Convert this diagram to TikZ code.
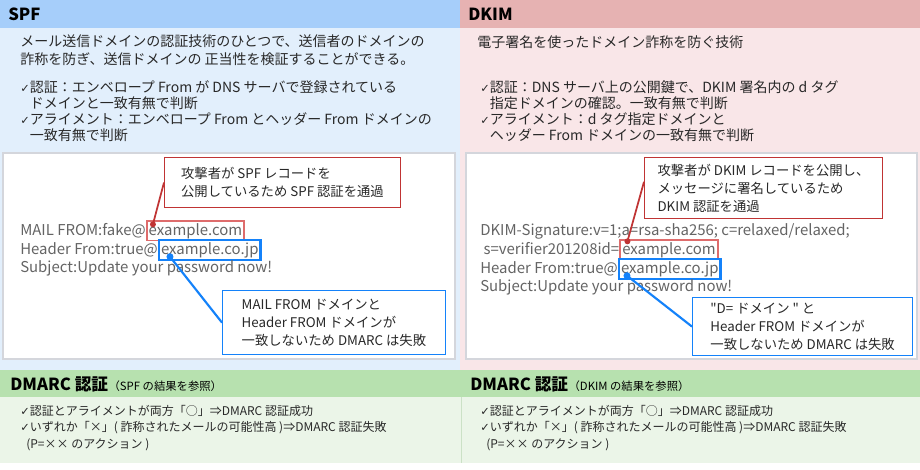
\documentclass[tikz,border=0pt]{standalone}
\usepackage{fontspec}
\setmainfont{Noto Sans CJK JP}
\newfontfamily\checkfont{DejaVu Sans}
\usetikzlibrary{calc,positioning}

\definecolor{spfhead}{RGB}{166,206,250}
\definecolor{spfback}{RGB}{226,239,252}
\definecolor{dkimhead}{RGB}{230,178,178}
\definecolor{dkimback}{RGB}{249,230,232}
\definecolor{dmarchead}{RGB}{183,225,175}
\definecolor{dmarcback}{RGB}{235,245,232}
\definecolor{mailgray}{RGB}{100,100,100}
\definecolor{textgray}{RGB}{40,40,40}
\definecolor{notered}{RGB}{192,52,52}
\definecolor{markred}{RGB}{222,108,108}
\definecolor{noteblue}{RGB}{20,130,250}
\definecolor{boxgray}{RGB}{212,214,220}

\newcommand{\chk}{{\checkfont\fontsize{8.5}{8}\selectfont ✓}}
\newcommand{\dq}{{\addfontfeatures{Ligatures=TeXOff}"}}

\begin{document}
\begin{tikzpicture}
[
x=0.75pt, y=-0.75pt,
headtext/.style={anchor=west, inner sep=0pt, font=\fontsize{12.5}{15}\selectfont\bfseries},
desc/.style={anchor=north west, inner sep=0pt, align=left, text=textgray, font=\fontsize{10.5}{13.5}\selectfont},
checks/.style={anchor=north west, inner sep=0pt, align=left, text=textgray, font=\fontsize{10.5}{12}\selectfont},
mail/.style={anchor=base west, inner sep=0pt, text=mailgray, font=\fontsize{11.2}{14}\selectfont},
redmark/.style={mail, draw=markred, line width=1.2pt, inner sep=1.5pt},
bluemark/.style={mail, draw=noteblue, line width=1.6pt, inner sep=1.5pt},
rednote/.style={anchor=north west, draw=notered, line width=0.7pt, fill=white, align=left, text=textgray, font=\fontsize{10}{13.5}\selectfont},
bluenote/.style={anchor=north west, draw=noteblue, line width=0.9pt, fill=white, align=left, text=textgray, font=\fontsize{10}{13.5}\selectfont},
redline/.style={draw=notered, line width=1.3pt},
blueline/.style={draw=noteblue, line width=1.6pt},
dmarctext/.style={anchor=north west, inner sep=0pt, align=left, text=textgray, font=\fontsize{9}{12.4}\selectfont},
]
\useasboundingbox[fill=white] (0,0) rectangle (920,469);

% panels
\fill[spfhead] (0,0) rectangle (460,28);
\fill[spfback] (0,28) rectangle (460,370);
\fill[dkimhead] (460,0) rectangle (920,28);
\fill[dkimback] (460,28) rectangle (920,370);
\fill[dmarchead] (0,370) rectangle (920,397);
\fill[dmarcback] (0,397) rectangle (920,463);
\draw[dmarcback!92!black!60!dmarchead, line width=0.5pt] (461,397) -- (461,463);
\draw[boxgray, fill=white, line width=1.2pt] (3,153) rectangle (455,359);
\draw[boxgray, fill=white, line width=1.2pt] (466,153) rectangle (917,359);

% SPF side
\node[headtext] (spftitle) at (8,14) {SPF};
\node[desc] (spfdesc) at (20,34) {メール送信ドメインの認証技術のひとつで、送信者のドメインの\\詐称を防ぎ、送信ドメインの 正当性を検証することができる。};
\node[checks] (spfcheck) at (20,80) {\chk 認証：エンベロープ From が DNS サーバで登録されている\\\phantom{\chk}ドメインと一致有無で判断\\\chk アライメント：エンベロープ From とヘッダー From ドメインの\\\phantom{\chk}一致有無で判断};

\node[mail] (spfmail1) at (20,235) {MAIL FROM:fake@};
\node[redmark, anchor=base west] (spfdom) at (spfmail1.base east) {example.com};
\node[mail] (spfmail2) at (20,254) {Header From:true@};
\node[bluemark, anchor=base west] (spfhdr) at (spfmail2.base east) {example.co.jp};
\node[mail] (spfmail3) at (20,272) {Subject:Update your password now!};

\node[rednote, minimum width=177pt, minimum height=37.5pt] (spfnote) at (164,157) {攻撃者が SPF レコードを\\公開しているため SPF 認証を通過};
\node[bluenote, minimum width=167pt, minimum height=48pt] (spfblue) at (222,290) {MAIL FROM ドメインと\\Header FROM ドメインが\\一致しないため DMARC は失敗};

\coordinate (spfreddot) at ($(spfdom.north west)+(7,4)$);
\coordinate (spfbluedot) at ($(spfhdr.south west)+(12,-4)$);
\draw[redline] (spfnote.west) -- (spfreddot);
\fill[notered] (spfreddot) circle (3);
\draw[blueline] (spfbluedot) -- (spfblue.west);
\fill[noteblue] (spfbluedot) circle (3.5);

% DKIM side
\node[headtext] (dkimtitle) at (468,14) {DKIM};
\node[desc] (dkimdesc) at (477,35) {電子署名を使ったドメイン詐称を防ぐ技術};
\node[checks] (dkimcheck) at (480,80) {\chk 認証：DNS サーバ上の公開鍵で、DKIM 署名内の d タグ\\\phantom{\chk}指定ドメインの確認。一致有無で判断\\\chk アライメント：d タグ指定ドメインと\\\phantom{\chk}ヘッダー From ドメインの一致有無で判断};

\node[mail] (dkimmail1) at (480,235) {DKIM-Signature:v=1;a=rsa-sha256; c=relaxed/relaxed;};
\node[mail] (dkimmail2) at (480,254) {\ s=verifier201208id=};
\node[redmark, anchor=base west] (dkimdom) at (dkimmail2.base east) {example.com};
\node[mail] (dkimmail3) at (480,273) {Header From:true@};
\node[bluemark, anchor=base west] (dkimhdr) at (dkimmail3.base east) {example.co.jp};
\node[mail] (dkimmail4) at (480,291) {Subject:Update your password now!};

\node[rednote, minimum width=178.5pt, minimum height=45.75pt] (dkimnote) at (644,157) {攻撃者が DKIM レコードを公開し、\\メッセージに署名しているため\\DKIM 認証を通過};
\node[bluenote, minimum width=165pt, minimum height=43.5pt] (dkimblue) at (692,297) {\dq D= ドメイン \dq{} と\\Header FROM ドメインが\\一致しないため DMARC は失敗};

\coordinate (dkimreddot) at ($(dkimdom.north west)+(8,2)$);
\coordinate (dkimbluedot) at ($(dkimhdr.south west)+(9,-4)$);
\draw[redline] ($(dkimnote.north west)!0.4!(dkimnote.south west)$) -- (dkimreddot);
\fill[notered] (dkimreddot) circle (3);
\draw[blueline] (dkimbluedot) -- (dkimblue.west);
\fill[noteblue] (dkimbluedot) circle (3.5);

% DMARC
\node[headtext] (spfdmarc) at (10,384) {DMARC 認証};
\node[anchor=base west, inner sep=0pt, font=\fontsize{8.5}{10}\selectfont] at (spfdmarc.base east) {（SPF の結果を参照）};
\node[dmarctext] (spfresult) at (20,405) {\chk 認証とアライメントが両方「○」⇒DMARC 認証成功\\\chk いずれか「×」( 詐称されたメールの可能性高 )⇒DMARC 認証失敗\\\hspace{4.5pt}(P=×× のアクション )};

\node[headtext] (dkimdmarc) at (470,384) {DMARC 認証};
\node[anchor=base west, inner sep=0pt, font=\fontsize{8.5}{10}\selectfont] at (dkimdmarc.base east) {（DKIM の結果を参照）};
\node[dmarctext] (dkimresult) at (480,405) {\chk 認証とアライメントが両方「○」⇒DMARC 認証成功\\\chk いずれか「×」( 詐称されたメールの可能性高 )⇒DMARC 認証失敗\\\hspace{4.5pt}(P=×× のアクション )};
\end{tikzpicture}
\end{document}
